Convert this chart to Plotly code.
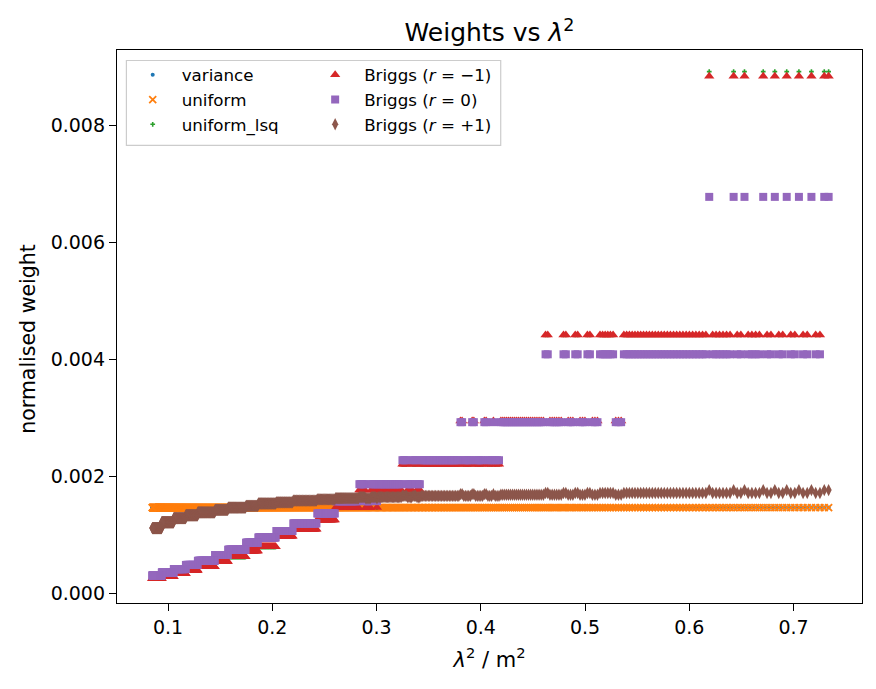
import plotly.graph_objects as go

# ---------------- data ----------------
C_LIGHT = 299.792458                       # m * MHz
freq_mhz = list(range(350, 1030))          # channel centre frequencies (1 MHz channels)
lam2 = [(C_LIGHT / f) ** 2 for f in freq_mhz]   # lambda^2 in m^2

# step segments (upper lambda^2 edge of each step)
seg_hi = [0.09395, 0.10547, 0.11699, 0.12851, 0.14483, 0.15731, 0.17459, 0.18611,
          0.20339, 0.21971, 0.24275, 0.26003, 0.28307, 0.28883, 0.29459, 0.29939,
          0.30131, 0.32435, 0.32915, 0.33395, 0.33875, 0.34259, 0.38051, 0.38339,
          0.39107, 0.39395, 0.40259, 0.40547, 0.41075, 0.41363, 0.41747, 0.46163,
          0.46499, 0.47843, 0.48227, 0.48995, 0.49379, 0.50147, 0.50531, 0.51251,
          0.52787, 0.53603, 0.80000]

briggs_m1_seg = [0.00026, 0.00029, 0.00034, 0.00040, 0.00046, 0.00055, 0.00063, 0.00073,
                 0.00080, 0.00098, 0.00110, 0.00126, 0.00147, 0.00177, 0.00147, 0.00177,
                 0.00147, 0.00177, 0.00221, 0.00177, 0.00221, 0.00177, 0.00221, 0.00295,
                 0.00221, 0.00295, 0.00221, 0.00295, 0.00221, 0.00295, 0.00221, 0.00295,
                 0.00442, 0.00295, 0.00442, 0.00295, 0.00442, 0.00295, 0.00442, 0.00295,
                 0.00442, 0.00295, 0.00442]

briggs_0_seg = [0.00031, 0.00036, 0.00042, 0.00049, 0.00056, 0.00066, 0.00075, 0.00087,
                0.00096, 0.00107, 0.00120, 0.00137, 0.00158, 0.00187, 0.00158, 0.00187,
                0.00158, 0.00187, 0.00228, 0.00187, 0.00228, 0.00187, 0.00228, 0.00293,
                0.00228, 0.00293, 0.00228, 0.00293, 0.00228, 0.00293, 0.00228, 0.00293,
                0.00409, 0.00293, 0.00409, 0.00293, 0.00409, 0.00293, 0.00409, 0.00293,
                0.00409, 0.00293, 0.00409]

briggs_p1_seg = [0.00112, 0.00122, 0.00129, 0.00134, 0.00139, 0.00143, 0.00147, 0.00150,
                 0.00154, 0.00156, 0.00159, 0.00161, 0.00163, 0.00165, 0.00163, 0.00165,
                 0.00163, 0.00165, 0.00167, 0.00165, 0.00167, 0.00165, 0.00167, 0.00170,
                 0.00167, 0.00170, 0.00167, 0.00170, 0.00167, 0.00170, 0.00167, 0.00169,
                 0.00172, 0.00169, 0.00172, 0.00169, 0.00172, 0.00169, 0.00172, 0.00169,
                 0.00172, 0.00169, 0.00172]

uniform_lsq_seg = briggs_m1_seg            # hidden under Briggs r=-1 wherever visible

# isolated channels that sit alone in their lambda^2 bin (top row of the chart)
single_lam2 = [0.6191, 0.6421, 0.6527, 0.6709, 0.6815, 0.6930, 0.7045, 0.7170, 0.7295, 0.7337]
single_val = {"uniform_lsq": 0.00892, "briggs_m1": 0.00884, "briggs_0": 0.00678, "briggs_p1": 0.00177}

uniform_level = 0.00147
variance_level = 0.00147


# ---------------- expand steps onto the channel grid ----------------
def step_lookup(x, values):
    for hi, v in zip(seg_hi, values):
        if x < hi:
            return v
    return values[-1]


single_idx = set()
for s in single_lam2:
    single_idx.add(min(range(len(lam2)), key=lambda i: abs(lam2[i] - s)))


def series(values, key=None):
    out = []
    for i, x in enumerate(lam2):
        if key is not None and i in single_idx:
            out.append(single_val[key])
        else:
            out.append(step_lookup(x, values))
    return out


y_variance = [variance_level] * len(lam2)
y_uniform = [uniform_level] * len(lam2)
y_lsq = series(uniform_lsq_seg, "uniform_lsq")
y_m1 = series(briggs_m1_seg, "briggs_m1")
y_0 = series(briggs_0_seg, "briggs_0")
y_p1 = series(briggs_p1_seg, "briggs_p1")

# ---------------- figure ----------------
FONT = "DejaVu Sans"
fig = go.Figure()

fig.add_trace(go.Scatter(x=lam2, y=y_variance, mode="markers", name="variance",
                         marker=dict(symbol="circle", size=4, color="#1f77b4"),
                         legend="legend", legendrank=1))
fig.add_trace(go.Scatter(x=lam2, y=y_uniform, mode="markers", name="uniform",
                         marker=dict(symbol="x-thin", size=7,
                                     line=dict(color="#ff7f0e", width=1.8)),
                         legend="legend", legendrank=2))
fig.add_trace(go.Scatter(x=lam2, y=y_lsq, mode="markers", name="uniform_lsq",
                         marker=dict(symbol="cross-thin", size=3.4,
                                     line=dict(color="#2ca02c", width=1.6)),
                         legend="legend", legendrank=3))
fig.add_trace(go.Scatter(x=lam2, y=y_m1, mode="markers", name="Briggs (<i>r</i> = −1)",
                         marker=dict(symbol="triangle-up", size=9, color="#d62728"),
                         legend="legend2", legendrank=4))
fig.add_trace(go.Scatter(x=lam2, y=y_0, mode="markers", name="Briggs (<i>r</i> = 0)",
                         marker=dict(symbol="square", size=8, color="#9467bd"),
                         legend="legend2", legendrank=5))
fig.add_trace(go.Scatter(x=lam2, y=y_p1, mode="markers", name="Briggs (<i>r</i> = +1)",
                         marker=dict(symbol="diamond-tall", size=8.8, color="#8c564b"),
                         legend="legend2", legendrank=6))

L, R, T, B = 117.3, 14.3, 49.5, 85.7
W, H = 876, 689
pw, ph = W - L - R, H - T - B


def px_x(p):
    return (p - L) / pw


def px_y(p):
    return (H - B - p) / ph


axis_common = dict(showline=True, linecolor="black", linewidth=1.3, mirror=True,
                   ticks="outside", ticklen=7, tickwidth=1.3, tickcolor="black",
                   showgrid=False, zeroline=False,
                   tickfont=dict(family=FONT, size=19, color="black"))

legend_common = dict(xanchor="left", yanchor="top", bgcolor="rgba(0,0,0,0)", borderwidth=0,
                     font=dict(family=FONT, size=16.7, color="black"), itemwidth=48,
                     tracegroupgap=0)

fig.update_layout(
    width=W, height=H,
    margin=dict(l=L, r=R, t=T, b=B),
    paper_bgcolor="white", plot_bgcolor="white",
    font=dict(family=FONT, size=16, color="black"),
    title=dict(text="Weights vs <i>λ</i><sup>2</sup>", x=px_x(489.5), xref="paper",
               xanchor="center", y=1, yref="paper", yanchor="bottom",
               pad=dict(b=9), font=dict(family=FONT, size=25, color="black")),
    xaxis=dict(range=[0.0510, 0.7657], tick0=0.1, dtick=0.1, tickformat=".1f",
               title=dict(text="<i>λ</i><sup>2</sup> / m<sup>2</sup>",
                          font=dict(family=FONT, size=21), standoff=15),
               **axis_common),
    yaxis=dict(range=[-0.00016, 0.00929], tick0=0, dtick=0.002, tickformat=".3f",
               **axis_common),
    legend=dict(x=px_x(124), y=px_y(57), **legend_common),
    legend2=dict(x=px_x(306.3), y=px_y(57), **legend_common),
    shapes=[dict(type="rect", xref="paper", yref="paper",
                 x0=px_x(126.7), x1=px_x(500.7), y0=px_y(145), y1=px_y(60),
                 line=dict(color="#cccccc", width=1.2), fillcolor="rgba(255,255,255,0.8)",
                 layer="above")],
    annotations=[dict(text="normalised weight", textangle=-90, xref="paper", yref="paper",
                      x=px_x(28), y=px_y(339), xanchor="center", yanchor="middle",
                      showarrow=False, font=dict(family=FONT, size=20.5, color="black"))],
)

fig.write_html("out.html")
